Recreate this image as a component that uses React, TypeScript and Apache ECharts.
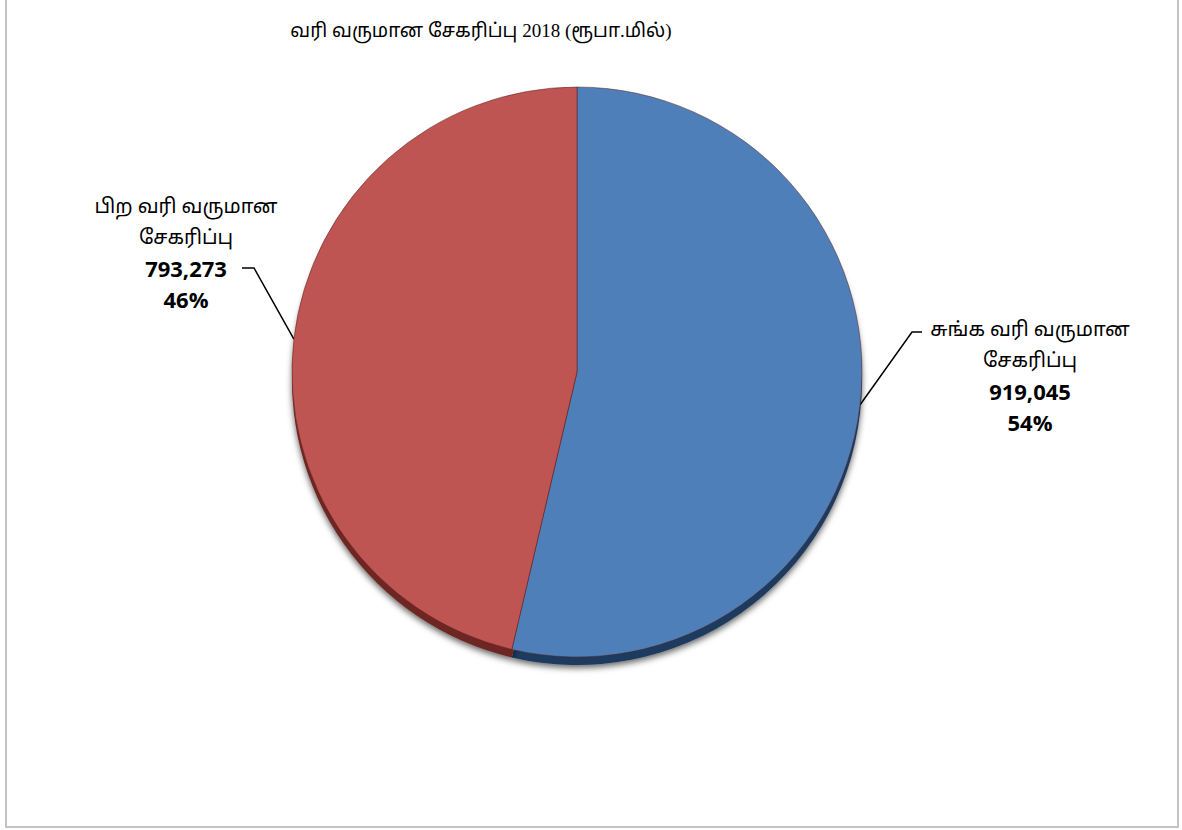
import React, { useEffect, useRef } from "react";
import * as echarts from "echarts";

const titleText = "வரி வருமான சேகரிப்பு 2018 (ரூபா.மில்)";
const categories = ["சுங்க வரி வருமான சேகரிப்பு", "பிற வரி வருமான சேகரிப்பு"];
const values = [919045, 793273];
const topColors = ["#4f7fb8", "#be5552"];
const rimColors = ["#1f3a5f", "#6e2624"];

const serifFont = "'Liberation Serif', 'Noto Sans Tamil', 'Noto Serif Tamil', serif";
const boldFont = "'Open Sans', 'Noto Sans', sans-serif";

export default function App() {
  const ref = useRef<HTMLDivElement>(null);

  useEffect(() => {
    if (!ref.current) return;
    const chart = echarts.init(ref.current, undefined, { renderer: "svg" });
    const cx = 577;
    const cy = 372;
    const r = 285;
    const labelPos = [
      { x: 1030, y: 375, knee: [912, 332], end: [922, 332] },
      { x: 186, y: 252, knee: [254, 268], end: [242, 268] },
    ];
    chart.setOption({
      animation: false,
      backgroundColor: "#ffffff",
      title: {
        text: titleText,
        left: 476,
        textAlign: "center",
        top: 16,
        textStyle: {
          fontFamily: serifFont,
          fontWeight: "normal",
          fontSize: 19,
          color: "#000",
        },
      },
      graphic: [
        {
          type: "rect",
          shape: { x: 6, y: -10, width: 1172, height: 837 },
          style: { fill: "none", stroke: "#c3c3c3", lineWidth: 2 },
          silent: true,
        },
      ],
      series: [
        {
          type: "pie",
          silent: true,
          center: [cx, cy + 8],
          radius: r,
          startAngle: 90,
          clockwise: true,
          percentPrecision: 0,
          label: { show: false },
          labelLine: { show: false },
          itemStyle: {
            shadowBlur: 6,
            shadowOffsetY: 3,
            shadowColor: "rgba(0,0,0,0.6)",
          },
          data: categories.map((name, i) => ({
            name,
            value: values[i],
            itemStyle: { color: rimColors[i] },
          })),
          z: 1,
        },
        {
          type: "pie",
          center: [cx, cy],
          radius: r,
          startAngle: 90,
          clockwise: true,
          percentPrecision: 0,
          itemStyle: { borderColor: "rgba(90,30,30,0.5)", borderWidth: 1 },
          data: categories.map((name, i) => ({
            name,
            value: values[i],
            itemStyle: { color: topColors[i] },
          })),
          label: {
            show: true,
            position: "outside",
            formatter: (p: any) => {
              const words = String(p.name).split(" ");
              const last = words.pop();
              const first = words.join(" ");
              const v = Number(p.value).toLocaleString("en-US");
              return `{n|${first}}\n{n|${last}}\n{v|${v}}\n{v|${Math.round(p.percent)}%}`;
            },
            rich: {
              n: {
                fontFamily: serifFont,
                fontSize: 20,
                color: "#000",
                lineHeight: 31,
                align: "center",
              },
              v: {
                fontFamily: boldFont,
                fontSize: 22,
                fontWeight: "bold",
                color: "#000",
                lineHeight: 31,
                align: "center",
              },
            },
          },
          labelLine: {
            show: true,
            lineStyle: { color: "#000", width: 1.5 },
          },
          labelLayout: (params: any) => {
            const lp = labelPos[params.dataIndex];
            const edge = params.labelLinePoints
              ? params.labelLinePoints[0]
              : [cx, cy];
            return {
              x: lp.x,
              y: lp.y,
              align: "center",
              verticalAlign: "middle",
              labelLinePoints: [edge, lp.knee, lp.end],
            };
          },
          z: 2,
        },
      ],
    });
    return () => chart.dispose();
  }, []);

  return (
    <div
      ref={ref}
      style={{
        position: "fixed",
        left: 0,
        top: 0,
        width: 1182,
        height: 830,
      }}
    />
  );
}
